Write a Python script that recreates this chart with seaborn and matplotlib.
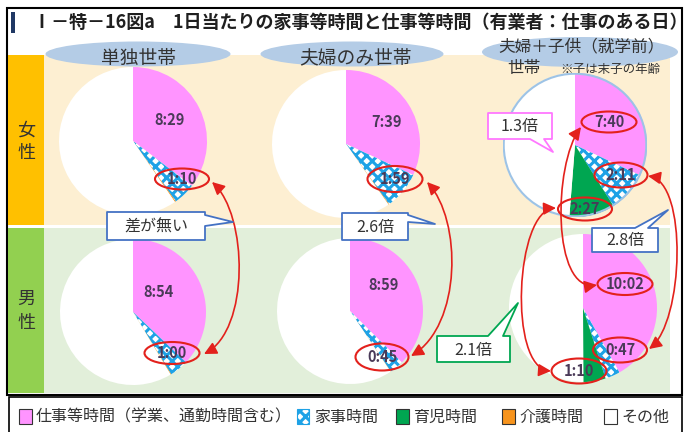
import matplotlib
matplotlib.use("Agg")
import matplotlib.pyplot as plt
import seaborn as sns
from matplotlib.patches import Rectangle, Ellipse, Polygon, FancyArrowPatch, Circle
from matplotlib.path import Path

# minutes per day (work, housework, childcare, care); rest of 24h is "other"
households = ["単独世帯", "夫婦のみ世帯", "夫婦＋子供（就学前）"]
women_work = [509, 459, 460]
women_house = [70, 119, 131]
women_child = [0, 0, 147]
women_care = [3, 2, 0]
men_work = [534, 539, 602]
men_house = [60, 45, 47]
men_child = [0, 0, 70]
men_care = [2, 1, 0]
house_ratio = ["差が無い", "2.6倍", "2.8倍"]
work_ratio = "1.3倍"
child_ratio = "2.1倍"
legend_labels = ["仕事等時間（学業、通勤時間含む）", "家事時間", "育児時間", "介護時間", "その他"]

W, H = 692, 432
PINK = "#FF94FF"
BLUE = "#1EA2E6"
GREEN = "#00A651"
ORANGE = "#F7941D"
RED = "#E3211C"
TXT = "#333333"
LBL = "#4A3A58"

sns.set_theme(style="white")
plt.rcParams["font.family"] = ["Noto Sans CJK JP", "DejaVu Sans"]
plt.rcParams["hatch.linewidth"] = 2.2


def hm(m):
    return f"{m // 60}:{m % 60:02d}"


fig = plt.figure(figsize=(W / 100, H / 100), dpi=100)
bg = fig.add_axes([0, 0, 1, 1], zorder=0)
bg.set_xlim(0, W)
bg.set_ylim(H, 0)
bg.axis("off")

# frame, title
bg.add_patch(Rectangle((7, 8), 675, 387, fill=False, ec="black", lw=1.5))
bg.add_patch(Rectangle((11, 12), 4, 21, fc="#203864", ec="none"))
bg.text(33, 22, "Ⅰ－特－16図a　1日当たりの家事等時間と仕事等時間（有業者：仕事のある日）",
        fontsize=13, fontweight="bold", color="#1F1F1F", va="center", ha="left")

# row backgrounds
bg.add_patch(Rectangle((44, 55), 626, 170, fc="#FDEFD2", ec="none"))
bg.add_patch(Rectangle((44, 228), 626, 165, fc="#E2EFDA", ec="none"))
bg.add_patch(Rectangle((8, 55), 36, 170, fc="#FFC000", ec="none"))
bg.add_patch(Rectangle((8, 228), 36, 165, fc="#92D050", ec="none"))
bg.text(26, 142, "女\n性", fontsize=13, color=TXT, ha="center", va="center", linespacing=1.35)
bg.text(26, 311, "男\n性", fontsize=13, color=TXT, ha="center", va="center", linespacing=1.45)

# header ellipses
for (cx, cy, w, h) in [(138, 54, 185, 25), (352, 54, 183, 25), (580, 52, 196, 30)]:
    bg.add_patch(Ellipse((cx, cy), w, h, fc="#B4CCE6", ec="none"))
bg.text(138, 58, households[0], fontsize=13.5, color=TXT, ha="center", va="center")
bg.text(355, 58, households[1], fontsize=13.5, color=TXT, ha="center", va="center")
bg.text(581, 47, households[2], fontsize=12, color=TXT, ha="center", va="center")
bg.text(524, 69, "世帯", fontsize=12, color=TXT, ha="center", va="center")
bg.text(610, 69, "※子は末子の年齢", fontsize=9, color=TXT, ha="center", va="center")

# legend box
bg.add_patch(Rectangle((9, 397), 673, 36, fill=False, ec="black", lw=1.2))
leg_x = [19, 297, 396, 502, 604]
leg_fc = [PINK, "white", GREEN, ORANGE, "white"]
for i, (x, fc, lab) in enumerate(zip(leg_x, leg_fc, legend_labels)):
    if i == 1:
        sq = Rectangle((x, 409), 12, 15, fc="white", ec=BLUE, lw=0.8, hatch="xxx")
    else:
        sq = Rectangle((x, 409), 13, 15, fc=fc, ec="#333333", lw=0.8)
    bg.add_patch(sq)
    bg.text(x + 17, 417, lab, fontsize=11.5, color=TXT, ha="left", va="center")


def pie(cx, cy, r, vals, ring=None):
    a = fig.add_axes([(cx - r) / W, 1 - (cy + r) / H, 2 * r / W, 2 * r / H], zorder=1)
    other = 1440 - sum(vals)
    wedges, _ = a.pie(vals + [other], colors=[PINK, "white", GREEN, ORANGE, "white"],
                      startangle=90, counterclock=False, wedgeprops=dict(linewidth=0))
    wedges[1].set_edgecolor(BLUE)
    wedges[1].set_hatch("xxx")
    wedges[1].set_linewidth(0)
    if ring:
        a.add_patch(Circle((0, 0), 0.99, fill=False, ec=ring, lw=1.5))
    a.set_xlim(-1, 1)
    a.set_ylim(-1, 1)
    a.axis("off")


w_centers = [(133, 141, 74), (346, 144, 74), (575, 145, 72)]
m_centers = [(133, 312, 73), (350, 311, 73), (583, 308, 74)]
for i in range(3):
    cx, cy, r = w_centers[i]
    pie(cx, cy, r, [women_work[i], women_house[i], women_child[i], women_care[i]],
        ring="#9DC3E6" if i == 2 else None)
    cx, cy, r = m_centers[i]
    pie(cx, cy, r, [men_work[i], men_house[i], men_child[i], men_care[i]])

ov = fig.add_axes([0, 0, 1, 1], zorder=2)
ov.set_xlim(0, W)
ov.set_ylim(H, 0)
ov.patch.set_alpha(0)
ov.axis("off")

# value labels: (x, y, ellipse size or None)
w_work_pos = [(170, 120, None), (386, 122, None), (609, 122, (55, 21))]
w_house_pos = [(182, 179, (54, 21)), (395, 179, (55, 26)), (621, 175, (53, 25))]
w_child_pos = [None, None, (585, 209, (54, 23))]
m_work_pos = [(158, 292, None), (384, 285, None), (625, 284, (55, 22))]
m_house_pos = [(172, 353, (55, 22)), (382, 357, (53, 27)), (620, 350, (54, 25))]
m_child_pos = [None, None, (579, 371, (55, 25))]


def vlabel(pos, val):
    if pos is None:
        return
    x, y, e = pos
    ov.text(x, y, hm(val), fontsize=10.5, fontweight="bold", color=LBL, ha="center", va="center")
    if e:
        ov.add_patch(Ellipse((x, y), e[0], e[1], fill=False, ec=RED, lw=1.5))


for i in range(3):
    vlabel(w_work_pos[i], women_work[i])
    vlabel(w_house_pos[i], women_house[i])
    vlabel(w_child_pos[i], women_child[i])
    vlabel(m_work_pos[i], men_work[i])
    vlabel(m_house_pos[i], men_house[i])
    vlabel(m_child_pos[i], men_child[i])

# red comparison arrows (cubic curves)
curves = [
    [(212, 182), (248, 215), (250, 330), (204, 354)],
    [(427, 182), (462, 220), (462, 325), (411, 356)],
    [(581, 127), (553, 165), (552, 292), (597, 285)],
    [(648, 176), (688, 182), (684, 322), (649, 349)],
    [(556, 208), (515, 210), (508, 368), (551, 371)],
]
for pts in curves:
    p = Path(pts, [Path.MOVETO, Path.CURVE4, Path.CURVE4, Path.CURVE4])
    ov.add_patch(FancyArrowPatch(path=p, arrowstyle="<|-|>,head_length=5,head_width=2.5",
                                 color=RED, lw=1.2, mutation_scale=1.5))


def callout(box, side, tail, ec, text):
    x0, y0, x1, y1 = box
    b1, tip, b2 = tail
    if side == "right":
        v = [(x0, y0), (x1, y0), (x1, b1), tip, (x1, b2), (x1, y1), (x0, y1)]
    elif side == "top":
        v = [(x0, y0), (b1, y0), tip, (b2, y0), (x1, y0), (x1, y1), (x0, y1)]
    else:
        v = [(x0, y0), (x1, y0), (x1, y1), (b2, y1), tip, (b1, y1), (x0, y1)]
    ov.add_patch(Polygon(v, closed=True, fc="white", ec=ec, lw=1.3, joinstyle="round"))
    ov.text((x0 + x1) / 2, (y0 + y1) / 2 + 1, text, fontsize=11.5, color=TXT,
            ha="center", va="center")


callout((107, 212, 205, 240), "right", (215, (233, 222), 226), "#4472C4", house_ratio[0])
callout((342, 213, 408, 240), "right", (215, (435, 224), 222), "#4472C4", house_ratio[1])
callout((592, 228, 658, 252), "top", (635, (668, 210), 648), "#4472C4", house_ratio[2])
callout((488, 113, 552, 139), "bottom", (530, (553, 152), 544), "#FF77FF", work_ratio)
callout((437, 336, 510, 362), "top", (488, (518, 303), 503), "#00A651", child_ratio)

fig.savefig("out.png", dpi=100)
